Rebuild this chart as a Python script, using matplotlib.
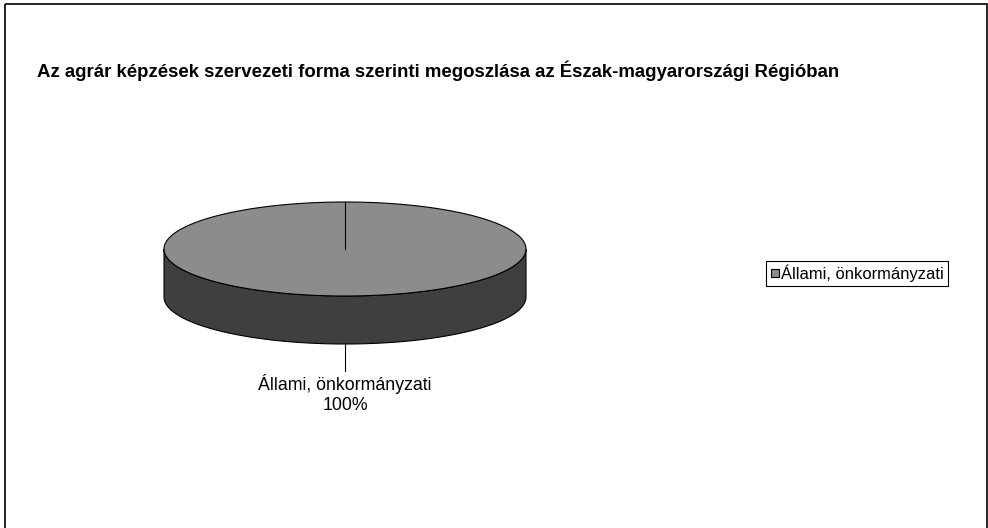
import numpy as np
import matplotlib
matplotlib.use("Agg")
import matplotlib.pyplot as plt
from matplotlib.patches import Polygon, Rectangle

plt.rcParams['font.family'] = ['Liberation Sans', 'DejaVu Sans']

title = "Az agrár képzések szervezeti forma szerinti megoszlása az Észak-magyarországi Régióban"
categories = ['Állami, önkormányzati']
values = [100]

top_col = '#8c8c8c'
side_col = '#3f3f3f'

fig = plt.figure(figsize=(9.88, 5.28), dpi=100)
ax = fig.add_axes([0, 0, 1, 1])
ax.set_xlim(0, 988)
ax.set_ylim(528, 0)
ax.axis('off')

# outer frame
ax.add_patch(Rectangle((5, 4), 982, 540, fill=False, edgecolor='black', lw=1.2))

ax.text(37, 71, title, fontsize=13.4, fontweight='bold', va='center', ha='left')

# pie geometry (pixels)
cx, cy, rx, ry, depth = 345, 249, 181, 47, 48
total = sum(values)
start = 90.0

# side of the pie (front half)
t = np.linspace(np.pi, 2 * np.pi, 200)
xs = cx + rx * np.cos(t)
ys = cy - ry * np.sin(t)
side = np.concatenate([np.column_stack([xs, ys]), np.column_stack([xs[::-1], ys[::-1] + depth])])
ax.add_patch(Polygon(side, closed=True, facecolor=side_col, edgecolor='black', lw=0.8))

ang = start
for cat, v in zip(categories, values):
    span = 360.0 * v / total
    a = np.radians(np.linspace(ang, ang - span, 300))
    pts = np.column_stack([cx + rx * np.cos(a), cy - ry * np.sin(a)])
    if span < 360:
        pts = np.vstack([[cx, cy], pts])
    ax.add_patch(Polygon(pts, closed=True, facecolor=top_col, edgecolor='black', lw=0.8))
    # slice boundary
    ax.plot([cx, cx + rx * np.cos(np.radians(ang))], [cy, cy - ry * np.sin(np.radians(ang))],
            color='black', lw=0.8)
    # label with leader line
    mid = np.radians(ang - span / 2)
    lx = cx + rx * np.cos(mid)
    ly = cy - ry * np.sin(mid) + depth
    ax.plot([lx, lx], [ly, ly + 27], color='black', lw=0.8)
    ax.text(lx, ly + 40, cat, fontsize=12.8, ha='center', va='center')
    ax.text(lx, ly + 62, f"{v / total * 100:.0f}%", fontsize=12.8, ha='center', va='center')
    ang -= span

# legend
ax.add_patch(Rectangle((766, 261), 182, 25, fill=False, edgecolor='black', lw=0.8))
for i, cat in enumerate(categories):
    ax.add_patch(Rectangle((771, 269 + i * 20), 8, 8, facecolor=top_col, edgecolor='black', lw=0.8))
    ax.text(781, 273.5 + i * 20, cat, fontsize=11.9, ha='left', va='center')

fig.savefig('out.png', dpi=100)
